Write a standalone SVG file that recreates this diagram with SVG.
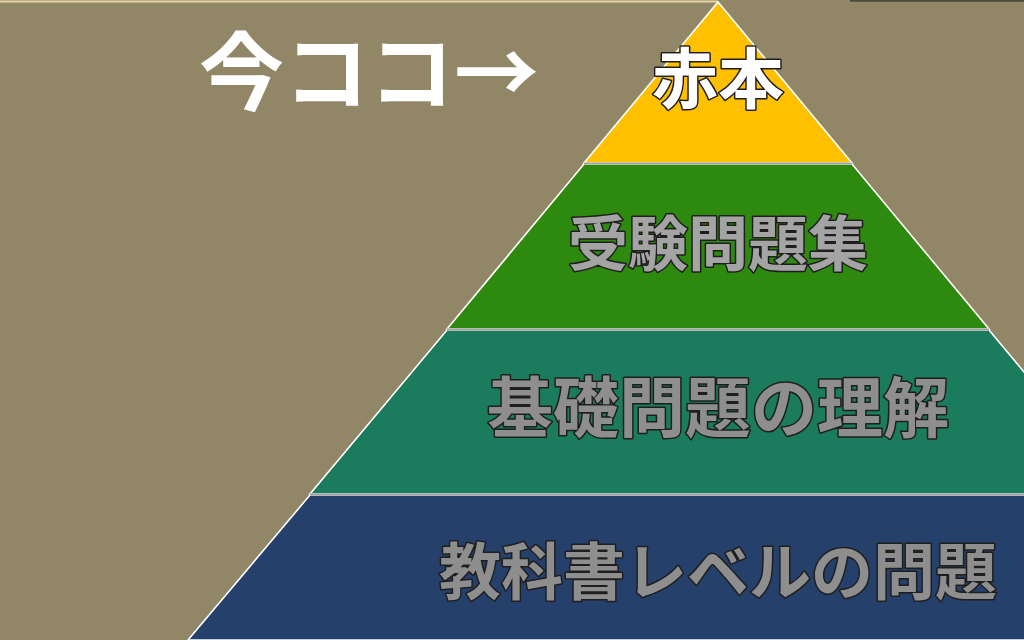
<svg xmlns="http://www.w3.org/2000/svg" width="1024" height="640" viewBox="0 0 1024 640">
<style>
.t{font-family:"Noto Sans CJK JP","Noto Sans CJK SC",sans-serif;font-weight:bold;text-anchor:middle}
.o{stroke:#1e1e1e;stroke-width:3;paint-order:stroke;stroke-linejoin:round}
.edge{stroke:#ffffff;stroke-width:1.6}
.sep{stroke:#a0a0a0;stroke-width:2}
</style>
<rect width="1024" height="640" fill="#918666"/>
<line x1="0" y1="1.5" x2="718" y2="1.5" stroke="#e6d6a6" stroke-width="2"/>
<line x1="850" y1="0.8" x2="1024" y2="0.8" stroke="#4a4a40" stroke-width="2"/>
<g id="layer1">
<polygon points="718,2 584,163 852,163" fill="#ffc000" class="edge"/>
<text class="t o" x="718" y="103" font-size="66" fill="#ffffff">赤本</text>
</g>
<g id="layer2">
<polygon points="584,164 852,164 989,329 447,329" fill="#2e890f" class="edge"/>
<text class="t o" x="718" y="266" font-size="60" fill="#a4a4a4">受験問題集</text>
</g>
<g id="layer3">
<polygon points="447,330 989,330 1126,494 310,494" fill="#1b7b5d" class="edge"/>
<text class="t o" x="718" y="432" font-size="66" fill="#8e8e8e">基礎問題の理解</text>
</g>
<g id="layer4">
<polygon points="310,495 1126,495 1250,640 188,640" fill="#26406c" class="edge"/>
<text class="t o" x="718" y="595" font-size="62" fill="#8e8e8e">教科書レベルの問題</text>
</g>
<g id="connectors">
<line class="sep" x1="584" y1="163.5" x2="852" y2="163.5"/>
<line class="sep" x1="447" y1="329.5" x2="989" y2="329.5"/>
<line class="sep" x1="310" y1="494.5" x2="1024" y2="494.5"/>
</g>
<g id="label">
<text class="t" x="369" y="104" font-size="85" fill="#ffffff">今ココ→</text>
</g>
</svg>
